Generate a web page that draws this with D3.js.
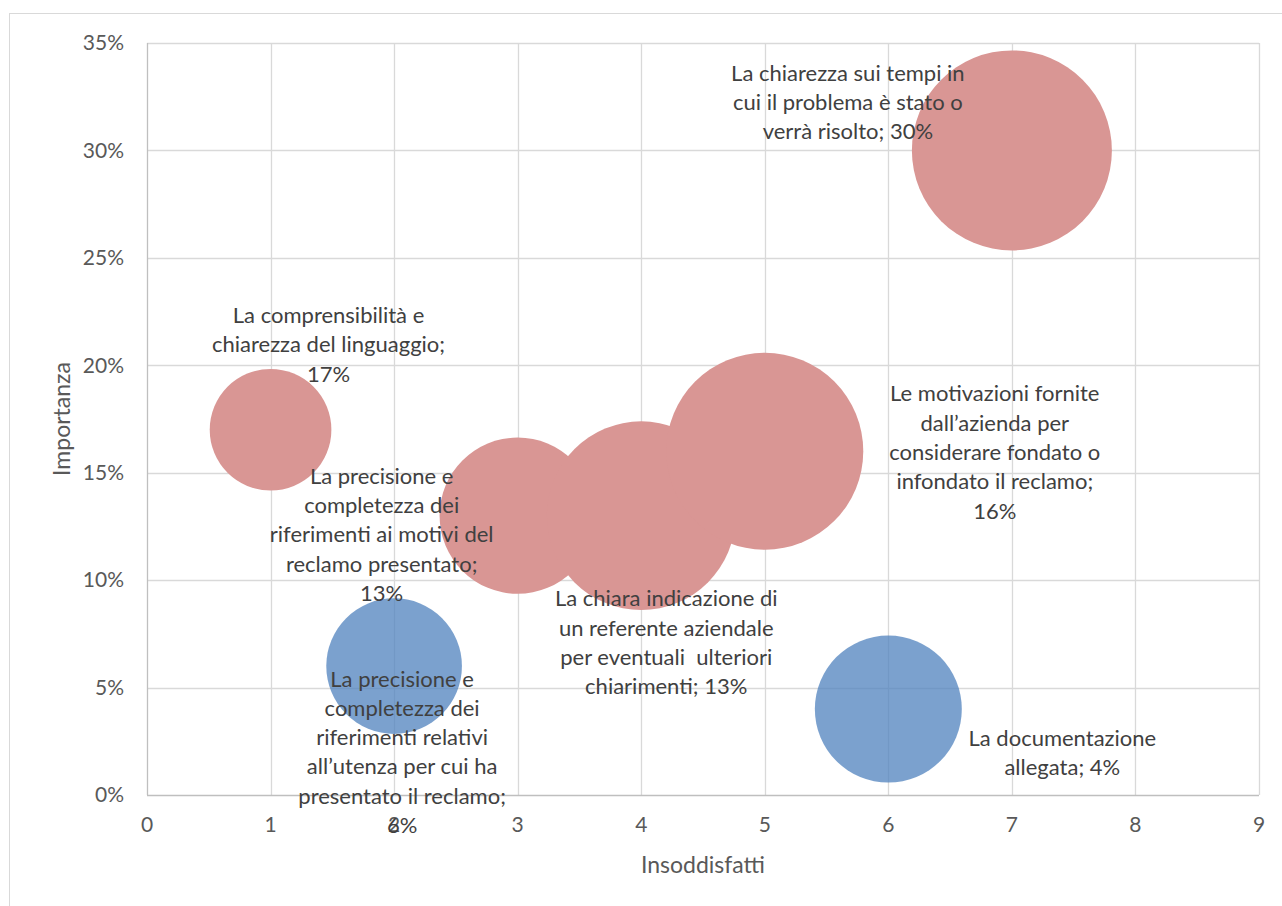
<!DOCTYPE html>
<html>
<head>
<meta charset="utf-8">
<script src="https://cdn.jsdelivr.net/npm/d3@7"></script>
<style>
  body { margin: 0; background: #fff; }
  svg { display: block; font-family: Lato, "Noto Sans", sans-serif; }
</style>
</head>
<body>
<svg id="chart" width="1282" height="906"></svg>
<script>
// data
const categories = [
  "La comprensibilità e chiarezza del linguaggio",
  "La precisione e completezza dei riferimenti ai motivi del reclamo presentato",
  "La chiara indicazione di un referente aziendale per eventuali  ulteriori chiarimenti",
  "Le motivazioni fornite dall’azienda per considerare fondato o infondato il reclamo",
  "La chiarezza sui tempi in cui il problema è stato o verrà risolto",
  "La precisione e completezza dei riferimenti relativi all’utenza per cui ha presentato il reclamo",
  "La documentazione allegata"
]
const insoddisfatti = [1, 3, 4, 5, 7, 2, 6]
const importanza = [0.17, 0.13, 0.13, 0.16, 0.30, 0.06, 0.04]
const dimensione = [37, 61, 89, 97, 100, 46, 54]
const serie = ["alta", "alta", "alta", "alta", "alta", "bassa", "bassa"]

const xTicks = [0, 1, 2, 3, 4, 5, 6, 7, 8, 9]
const yTicks = [0, 0.05, 0.10, 0.15, 0.20, 0.25, 0.30, 0.35]

// label text lines (as wrapped in the original)
const labelLines = [
  ["La comprensibilità e", "chiarezza del linguaggio;", "17%"],
  ["La precisione e", "completezza dei", "riferimenti ai motivi del", "reclamo presentato;", "13%"],
  ["La chiara indicazione di", "un referente aziendale", "per eventuali  ulteriori", "chiarimenti; 13%"],
  ["Le motivazioni fornite", "dall’azienda per", "considerare fondato o", "infondato il reclamo;", "16%"],
  ["La chiarezza sui tempi in", "cui il problema è stato o", "verrà risolto; 30%"],
  ["La precisione e", "completezza dei", "riferimenti relativi", "all’utenza per cui ha", "presentato il reclamo;", "6%"],
  ["La documentazione", "allegata; 4%"]
]
// label block offsets from bubble centre (px), layout only
const labelOffset = [[58, -85], [-136, 19], [25, 127], [230, 1], [-164, -48], [8, 86], [174, 44]]

const svg = d3.select("#chart")
const margin = {left: 147, top: 43, right: 1259, bottom: 795}

const x = d3.scaleLinear().domain([0, 9]).range([margin.left, margin.right])
const y = d3.scaleLinear().domain([0, 0.35]).range([margin.bottom, margin.top])
const r = d3.scaleSqrt().domain([0, 100]).range([0, 100])
const color = {alta: "#d99694", bassa: "#4f81bd"}
const opacity = {alta: 1, bassa: 0.75}

// outer chart border
svg.append("rect")
  .attr("x", 9.5).attr("y", 13.5)
  .attr("width", 1290).attr("height", 900)
  .attr("fill", "none").attr("stroke", "#d9d9d9")

// gridlines
svg.append("g").selectAll("line")
  .data(yTicks.slice(1))
  .join("line")
  .attr("x1", margin.left).attr("x2", margin.right)
  .attr("y1", d => Math.round(y(d)) + 0.5).attr("y2", d => Math.round(y(d)) + 0.5)
  .attr("stroke", "#d9d9d9").attr("stroke-width", 1.3)

svg.append("g").selectAll("line")
  .data(xTicks.slice(1))
  .join("line")
  .attr("y1", margin.top).attr("y2", margin.bottom)
  .attr("x1", d => Math.round(x(d)) + 0.5).attr("x2", d => Math.round(x(d)) + 0.5)
  .attr("stroke", "#d9d9d9").attr("stroke-width", 1.3)

// axis lines
svg.append("line")
  .attr("x1", margin.left + 0.5).attr("x2", margin.left + 0.5)
  .attr("y1", margin.top).attr("y2", margin.bottom)
  .attr("stroke", "#bfbfbf").attr("stroke-width", 1.3)
svg.append("line")
  .attr("x1", margin.left).attr("x2", margin.right)
  .attr("y1", margin.bottom + 0.5).attr("y2", margin.bottom + 0.5)
  .attr("stroke", "#bfbfbf").attr("stroke-width", 1.3)

// tick labels
svg.append("g").selectAll("text")
  .data(yTicks)
  .join("text")
  .attr("x", 124).attr("y", d => y(d))
  .attr("dy", "0.35em")
  .attr("text-anchor", "end")
  .attr("fill", "#595959")
  .style("font-size", "21px")
  .text(d => d3.format(".0%")(d))

svg.append("g").selectAll("text")
  .data(xTicks)
  .join("text")
  .attr("x", d => x(d)).attr("y", 825)
  .attr("dy", "0.35em")
  .attr("text-anchor", "middle")
  .attr("fill", "#595959")
  .style("font-size", "21px")
  .text(d => d)

// axis titles
svg.append("text")
  .attr("transform", "translate(62,419) rotate(-90)")
  .attr("text-anchor", "middle").attr("dy", "0.35em")
  .attr("fill", "#595959")
  .style("font-size", "23px")
  .text("Importanza")

svg.append("text")
  .attr("x", 703).attr("y", 865)
  .attr("text-anchor", "middle").attr("dy", "0.35em")
  .attr("fill", "#595959")
  .style("font-size", "23px")
  .text("Insoddisfatti")

// bubbles
const points = categories.map((c, i) => ({
  name: c, x: insoddisfatti[i], y: importanza[i], size: dimensione[i], s: serie[i], i
}))

svg.append("g").selectAll("circle")
  .data(points)
  .join("circle")
  .attr("cx", d => x(d.x))
  .attr("cy", d => y(d.y))
  .attr("r", d => r(d.size))
  .attr("fill", d => color[d.s])
  .attr("fill-opacity", d => opacity[d.s])

// data labels
const lineH = 29.3
const labels = svg.append("g").selectAll("text")
  .data(points)
  .join("text")
  .attr("text-anchor", "middle")
  .attr("fill", "#404040")
  .style("font-size", "22px")

labels.each(function (d) {
  const lines = labelLines[d.i]
  const cx = x(d.x) + labelOffset[d.i][0]
  const cy = y(d.y) + labelOffset[d.i][1] - (lines.length - 1) * lineH / 2
  d3.select(this).selectAll("tspan")
    .data(lines)
    .join("tspan")
    .attr("x", cx)
    .attr("y", (l, k) => cy + k * lineH)
    .attr("dy", "0.35em")
    .style("white-space", "pre")
    .text(l => l)
})
</script>
</body>
</html>
